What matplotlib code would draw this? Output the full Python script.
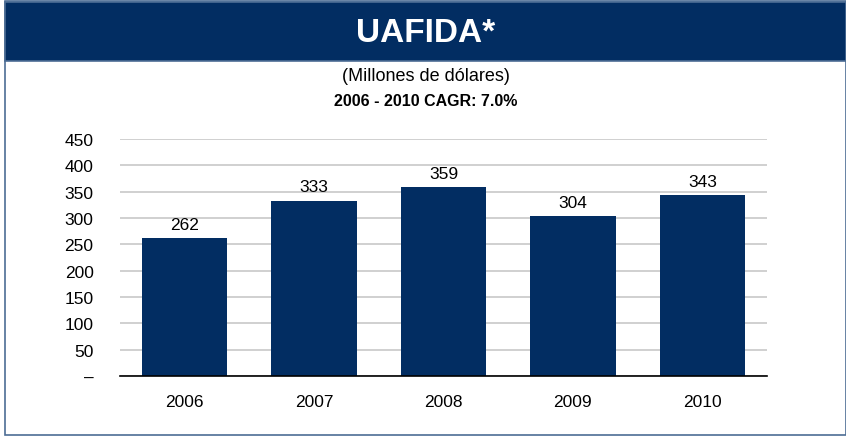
import numpy as np
import matplotlib.pyplot as plt
from matplotlib.patches import Rectangle

# data
years = ["2006", "2007", "2008", "2009", "2010"]
uafida = [262, 333, 359, 304, 343]

navy = "#022d62"
plt.rcParams['font.family'] = ['Liberation Sans', 'DejaVu Sans']

fig = plt.figure(figsize=(8.46, 4.39), dpi=100)

# outer frame and header band
fig.patches.append(Rectangle((5/846, 3/439), 841/846, 434/439, transform=fig.transFigure,
                             fill=False, edgecolor="#4d6d95", linewidth=1.2))
fig.patches.append(Rectangle((5/846, 1 - 62/439), 841/846, 59/439, transform=fig.transFigure,
                             facecolor=navy, edgecolor="#4d6d95", linewidth=1.2))
fig.text(0.503, 1 - 33/439, "UAFIDA*", color="white", fontsize=24, fontweight="bold",
         ha="center", va="center")
fig.text(0.503, 1 - 77/439, "(Millones de dólares)", fontsize=13, ha="center", va="center")
fig.text(0.503, 1 - 101/439, "2006 - 2010 CAGR: 7.0%", fontsize=11.5, fontweight="bold",
         ha="center", va="center")

ax = fig.add_axes([120/846, 1 - 377/439, 647/846, 237/439])
x = np.arange(len(years))
bars = ax.bar(x, uafida, width=0.66, color=navy, zorder=3)
for xi, v in zip(x, uafida):
    ax.text(xi, v + 12, str(v), ha="center", va="bottom", fontsize=12.5)

ax.set_xlim(-0.5, len(years) - 0.5)
ax.set_ylim(0, 450)
ax.set_yticks(range(0, 451, 50))
ax.set_yticklabels(["–"] + [str(t) for t in range(50, 451, 50)])
ax.set_xticks(x)
ax.set_xticklabels(years)
ax.tick_params(axis="both", length=0, labelsize=12.5)
ax.tick_params(axis="y", pad=19)
ax.tick_params(axis="x", pad=13)
ax.yaxis.grid(True, color="#c8c8c8", linewidth=1.2, zorder=0)
for s in ["top", "right", "left"]:
    ax.spines[s].set_visible(False)
ax.spines["bottom"].set_linewidth(1.2)
ax.spines["bottom"].set_zorder(4)

plt.savefig("out.png", dpi=100)
